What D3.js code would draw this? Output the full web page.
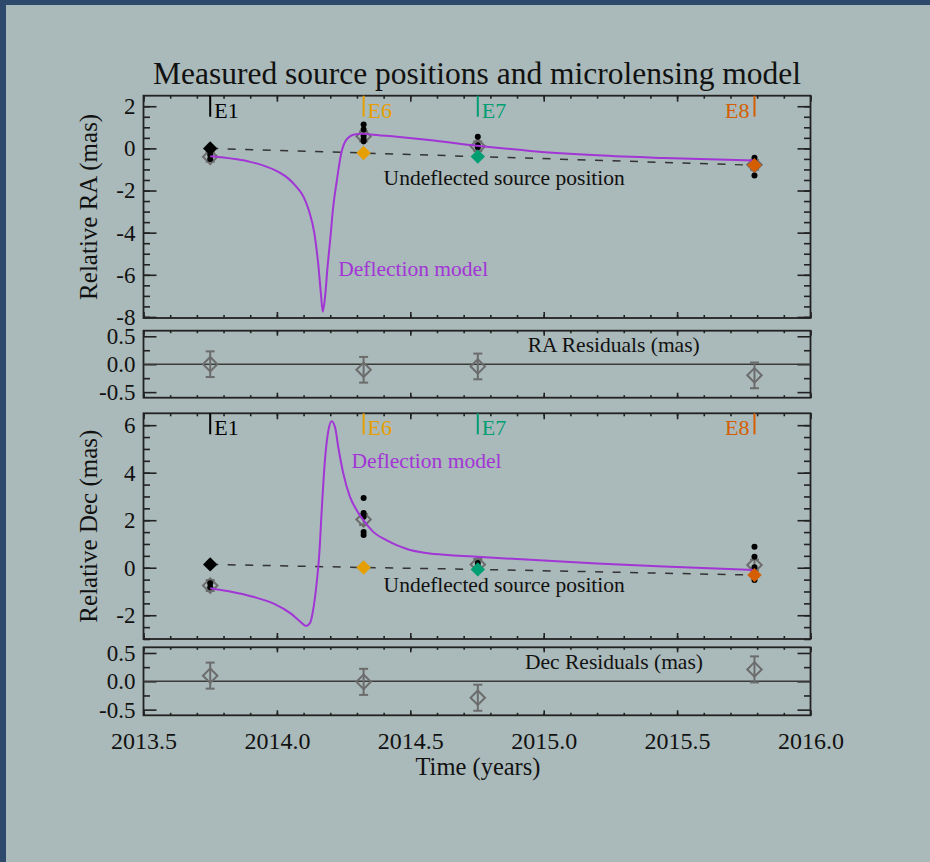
<!DOCTYPE html>
<html><head><meta charset="utf-8">
<script src="https://cdn.jsdelivr.net/npm/d3@7"></script>
<style>
html,body{margin:0;padding:0;background:#2d4a6c;}
svg{display:block;}
svg text{font-family:"Liberation Serif","Times New Roman",Times,serif !important;}
</style>
</head><body>
<svg id="chart" width="930" height="862"></svg>
<script>
// ---------------- data ----------------
const epochLabels = ["E1", "E6", "E7", "E8"];
const epochTimes = [2013.75, 2014.325, 2014.753, 2015.79];

const raUndeflected = [0.00, -0.22, -0.39, -0.80];
const raMeasured = [-0.40, 0.57, 0.10, -0.78];
const raMeasuredErr = [0.23, 0.23, 0.23, 0.23];
const raSingle = [[-0.30, -0.50], [1.13, 0.90, 0.60, 0.45, 0.34], [0.55, 0.15, 0.05], [-0.45, -0.65, -0.80, -1.29]];
const raResidual = [0.00, -0.10, -0.04, -0.20];
const raResidualErr = [0.23, 0.23, 0.23, 0.23];
const raModelTimes = [2013.75, 2013.80, 2013.85, 2013.90, 2013.95, 2014.00, 2014.04, 2014.07, 2014.10, 2014.12, 2014.14, 2014.155, 2014.165, 2014.172, 2014.18, 2014.19, 2014.20, 2014.21, 2014.225, 2014.24, 2014.26, 2014.29, 2014.32, 2014.35, 2014.45, 2014.57, 2014.75, 2014.95, 2015.20, 2015.45, 2015.79];
const raModelValues = [-0.37, -0.43, -0.52, -0.64, -0.82, -1.08, -1.40, -1.78, -2.30, -2.95, -4.00, -5.50, -6.90, -7.75, -7.10, -5.60, -4.30, -2.90, -1.50, -0.30, 0.40, 0.66, 0.70, 0.66, 0.55, 0.40, 0.13, -0.12, -0.33, -0.46, -0.58];

const decUndeflected = [0.14, 0.01, -0.07, -0.31];
const decMeasured = [-0.75, 2.03, 0.14, 0.11];
const decMeasuredErr = [0.23, 0.23, 0.23, 0.23];
const decSingle = [[-0.65, -0.82], [2.94, 2.30, 2.15, 1.50, 1.38], [0.20, 0.05], [0.88, 0.46, 0.02, -0.52]];
const decResidual = [0.10, -0.01, -0.29, 0.21];
const decResidualErr = [0.23, 0.23, 0.23, 0.23];
const decModelTimes = [2013.75, 2013.82, 2013.91, 2013.99, 2014.05, 2014.087, 2014.109, 2014.124, 2014.136, 2014.149, 2014.159, 2014.168, 2014.18, 2014.193, 2014.205, 2014.218, 2014.23, 2014.249, 2014.274, 2014.299, 2014.324, 2014.361, 2014.412, 2014.449, 2014.49, 2014.56, 2014.65, 2014.75, 2015.00, 2015.20, 2015.45, 2015.79];
const decModelValues = [-0.86, -0.99, -1.22, -1.52, -1.91, -2.26, -2.45, -2.33, -1.77, -0.65, 0.60, 2.42, 4.52, 5.78, 6.17, 5.91, 5.08, 3.96, 2.98, 2.42, 2.00, 1.51, 1.15, 0.95, 0.78, 0.62, 0.53, 0.46, 0.30, 0.18, 0.05, -0.10];

const timeTicks = [2013.5, 2014.0, 2014.5, 2015.0, 2015.5, 2016.0];
const timeMinorTicks = d3.range(0, 26).map(i => 2013.5 + i * 0.1);
const raTicks = [-8, -6, -4, -2, 0, 2];
const raMinorTicks = d3.range(0, 21).map(i => -8 + i * 0.5);
const decTicks = [-2, 0, 2, 4, 6];
const decMinorTicks = d3.range(0, 19).map(i => -3 + i * 0.5);
const resTicks = [-0.5, 0.0, 0.5];
const resMinorTicks = [-0.25, 0.25];

// ---------------- styles ----------------
const epochColors = ["#000000", "#E69F00", "#009E73", "#D55E00"];
const purple = "#A235D6";
const grayMark = "#6c6c6c";
const frameColor = "#222";
const serif = "Liberation Serif";

const W = 930, H = 862;
const svg = d3.select("#chart");
svg.append("rect").attr("x", 6).attr("y", 5).attr("width", W - 6).attr("height", H - 5).attr("fill", "#aab9b9");

const x = d3.scaleLinear().domain([2013.5, 2016.0]).range([143.5, 810.5]);

const yRA = d3.scaleLinear().domain([-8.05, 2.5]).range([318, 95.7]);
const yRAres = d3.scaleLinear().domain([-0.6, 0.6]).range([397.7, 330.7]);
const yDec = d3.scaleLinear().domain([-3, 6.5]).range([639, 413.3]);
const yDecres = d3.scaleLinear().domain([-0.6, 0.6]).range([715.3, 647.3]);

function styleAxis(g) {
  g.select(".domain").remove();
  g.selectAll(".tick line").attr("stroke", frameColor).attr("stroke-width", 1.6);
  g.attr("font-family", serif).attr("font-size", 23).attr("fill", "#111");
  g.selectAll(".tick text").attr("fill", "#111");
}

function panel(y, major, minor, fmt, isRes, showX) {
  const [x0, x1] = x.range();
  const [yb, yt] = y.range();
  const g = svg.append("g");
  const xm = isRes ? 5 : 6, xn = isRes ? 2.5 : 3;
  g.append("g").attr("transform", `translate(0,${yb})`)
    .call(d3.axisBottom(x).tickValues(timeMinorTicks).tickSize(-xn).tickFormat("")).call(styleAxis);
  g.append("g").attr("transform", `translate(0,${yt})`)
    .call(d3.axisTop(x).tickValues(timeMinorTicks).tickSize(-xn).tickFormat("")).call(styleAxis);
  const bx = g.append("g").attr("transform", `translate(0,${yb})`)
    .call(d3.axisBottom(x).tickValues(timeTicks).tickSize(-xm).tickPadding(17)
      .tickFormat(showX ? (d => d.toFixed(1)) : "")).call(styleAxis);
  if (showX) bx.attr("font-size", 24);
  g.append("g").attr("transform", `translate(0,${yt})`)
    .call(d3.axisTop(x).tickValues(timeTicks).tickSize(-xm).tickFormat("")).call(styleAxis);
  g.append("g").attr("transform", `translate(${x0},0)`)
    .call(d3.axisLeft(y).tickValues(minor).tickSize(-6.5).tickFormat("")).call(styleAxis);
  g.append("g").attr("transform", `translate(${x1},0)`)
    .call(d3.axisRight(y).tickValues(minor).tickSize(-6.5).tickFormat("")).call(styleAxis);
  g.append("g").attr("transform", `translate(${x0},0)`)
    .call(d3.axisLeft(y).tickValues(major).tickSize(-13).tickPadding(8).tickFormat(fmt)).call(styleAxis);
  g.append("g").attr("transform", `translate(${x1},0)`)
    .call(d3.axisRight(y).tickValues(major).tickSize(-13).tickFormat("")).call(styleAxis);
  g.append("rect").attr("x", x0).attr("y", yt).attr("width", x1 - x0).attr("height", yb - yt)
    .attr("fill", "none").attr("stroke", frameColor).attr("stroke-width", 1.8);
  return g;
}

const diamond = d3.symbol().type(d3.symbolSquare).size(104);

function errDiamonds(g, y, vals, errs) {
  const grp = g.append("g");
  epochTimes.forEach((t, i) => {
    const cx = x(t);
    const ylo = y(vals[i] - errs[i]), yhi = y(vals[i] + errs[i]);
    grp.append("line").attr("x1", cx).attr("x2", cx).attr("y1", ylo).attr("y2", yhi)
      .attr("stroke", grayMark).attr("stroke-width", 2);
    [ylo, yhi].forEach(yy => grp.append("line").attr("x1", cx - 4.5).attr("x2", cx + 4.5)
      .attr("y1", yy).attr("y2", yy).attr("stroke", grayMark).attr("stroke-width", 2));
    grp.append("path").attr("d", diamond)
      .attr("transform", `translate(${cx},${y(vals[i])}) rotate(45)`)
      .attr("fill", "none").attr("stroke", grayMark).attr("stroke-width", 2);
  });
}

function mainPanel(y, major, minor, undeflected, measured, measErr, singles, mTimes, mValues) {
  const g = panel(y, major, minor, d => String(d), false, false);
  g.append("path")
    .attr("d", d3.line().x((d, i) => x(epochTimes[i])).y(d => y(d))(undeflected))
    .attr("fill", "none").attr("stroke", "#333").attr("stroke-width", 1.5).attr("stroke-dasharray", "8,9.5");
  errDiamonds(g, y, measured, measErr);
  singles.forEach((arr, i) => arr.forEach(v =>
    g.append("circle").attr("cx", x(epochTimes[i])).attr("cy", y(v)).attr("r", 3).attr("fill", "#000")));
  g.append("path")
    .attr("d", d3.line().x((d, i) => x(mTimes[i])).y(d => y(d)).curve(d3.curveMonotoneX)(mValues))
    .attr("fill", "none").attr("stroke", purple).attr("stroke-width", 2);
  undeflected.forEach((v, i) =>
    g.append("path").attr("d", diamond).attr("transform", `translate(${x(epochTimes[i])},${y(v)}) rotate(45)`)
      .attr("fill", epochColors[i]));
  const yt = y.range()[1];
  epochTimes.forEach((t, i) => {
    const cx = x(t);
    g.append("line").attr("x1", cx).attr("x2", cx).attr("y1", yt).attr("y2", yt + 21)
      .attr("stroke", epochColors[i]).attr("stroke-width", 2);
    const last = i === epochTimes.length - 1;
    g.append("text").attr("x", last ? cx - 5 : cx + 4).attr("y", yt + 22)
      .attr("text-anchor", last ? "end" : "start")
      .attr("font-family", serif).attr("font-size", 22).attr("fill", epochColors[i]).text(epochLabels[i]);
  });
  return g;
}

function resPanel(y, vals, errs) {
  const g = panel(y, resTicks, resMinorTicks, d => d.toFixed(1), true, y === yDecres);
  g.append("line").attr("x1", x.range()[0]).attr("x2", x.range()[1]).attr("y1", y(0)).attr("y2", y(0))
    .attr("stroke", "#3a3a3a").attr("stroke-width", 1.5);
  errDiamonds(g, y, vals, errs);
  return g;
}

const gRA = mainPanel(yRA, raTicks, raMinorTicks, raUndeflected, raMeasured, raMeasuredErr, raSingle, raModelTimes, raModelValues);
const gRAres = resPanel(yRAres, raResidual, raResidualErr);
const gDec = mainPanel(yDec, decTicks, decMinorTicks, decUndeflected, decMeasured, decMeasuredErr, decSingle, decModelTimes, decModelValues);
const gDecres = resPanel(yDecres, decResidual, decResidualErr);

function label(g, tx, ty, txt, color, size) {
  g.append("text").attr("x", tx).attr("y", ty).attr("font-family", serif).attr("font-size", size || 21.5)
    .attr("fill", color || "#111").text(txt);
}
label(gRA, x(2014.23), yRA(-6.08), "Deflection model", purple);
label(gRA, x(2014.4), yRA(-1.74), "Undeflected source position");
label(gDec, x(2014.28), yDec(4.18), "Deflection model", purple);
label(gDec, x(2014.4), yDec(-1.02), "Undeflected source position");
label(gRAres, x(2014.94), yRAres(0.22), "RA Residuals (mas)");
label(gDecres, x(2014.93), yDecres(0.22), "Dec Residuals (mas)");

svg.append("text").attr("transform", `translate(97,${(yRA.range()[0] + yRA.range()[1]) / 2}) rotate(-90)`)
  .attr("text-anchor", "middle").attr("font-family", serif).attr("font-size", 25).attr("fill", "#111")
  .text("Relative RA (mas)");
svg.append("text").attr("transform", `translate(97,${(yDec.range()[0] + yDec.range()[1]) / 2}) rotate(-90)`)
  .attr("text-anchor", "middle").attr("font-family", serif).attr("font-size", 25).attr("fill", "#111")
  .text("Relative Dec (mas)");
svg.append("text").attr("x", 478).attr("y", 775).attr("text-anchor", "middle")
  .attr("font-family", serif).attr("font-size", 24.5).attr("fill", "#111").text("Time (years)");
svg.append("text").attr("x", 477).attr("y", 84).attr("text-anchor", "middle")
  .attr("font-family", serif).attr("font-size", 31).attr("fill", "#111")
  .attr("textLength", 648).attr("lengthAdjust", "spacingAndGlyphs")
  .text("Measured source positions and microlensing model");
</script>
</body></html>
